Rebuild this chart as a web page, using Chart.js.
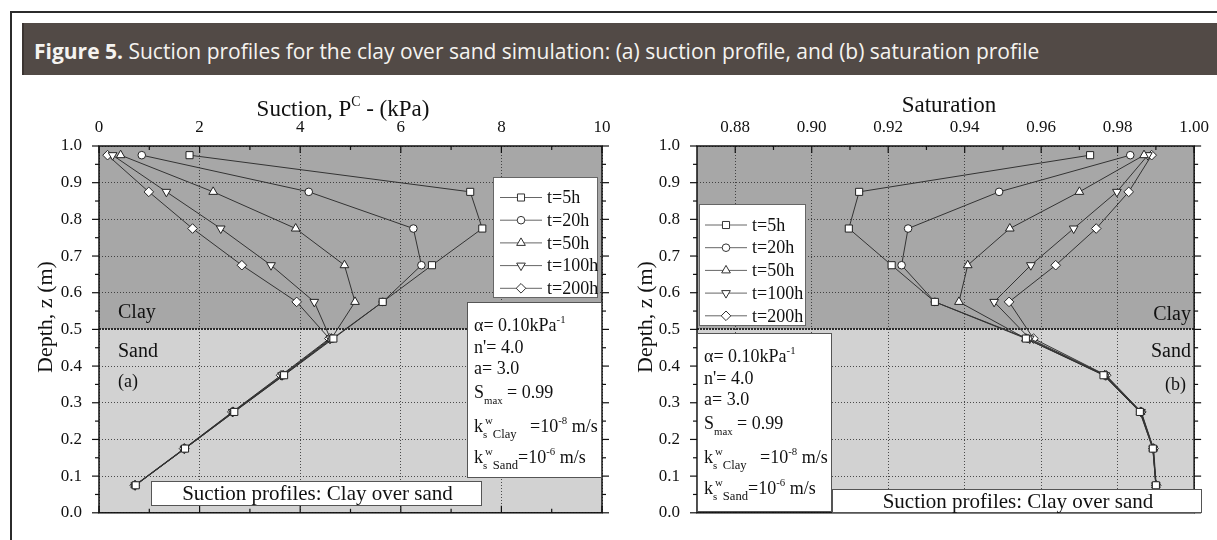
<!DOCTYPE html>
<html>
<head>
<meta charset="utf-8">
<script src="https://cdn.jsdelivr.net/npm/chart.js@4.4.0/dist/chart.umd.min.js"></script>
<style>
  body { margin: 0; width: 1217px; height: 540px; background: #fff; position: relative; overflow: hidden; }
  #frame { position: absolute; left: 10px; top: 11px; width: 1300px; height: 600px;
    border-left: 2px solid #2b2b2b; border-top: 2px solid #2b2b2b; }
  #header { position: absolute; left: 22px; top: 23px; width: 1195px; height: 52px; box-sizing: border-box;
    background: #524a46; border-left: 2px solid #3b3431; padding-left: 10px;
    color: #f5f3f0; font: 21px "Open Sans", sans-serif; line-height: 52px; white-space: nowrap; }
  #header span { position: relative; top: 2px; }
  canvas { position: absolute; left: 0; top: 0; }
</style>
</head>
<body>
<div id="frame"></div>
<div id="header"><span><b>Figure 5.</b> Suction profiles for the clay over sand simulation: (a) suction profile, and (b) saturation profile</span></div>
<canvas id="suctionChart" width="1217" height="540"></canvas>
<canvas id="saturationChart" width="1217" height="540"></canvas>
<script>
// depths of the nodes (m)
const depth = [0.975, 0.875, 0.775, 0.675, 0.575, 0.475, 0.375, 0.275, 0.175, 0.075];
const timeLabels = ['t=5h', 't=20h', 't=50h', 't=100h', 't=200h'];

// (a) suction, kPa
const suction5h   = [1.80, 7.38, 7.62, 6.62, 5.64, 4.66, 3.68, 2.69, 1.71, 0.73];
const suction20h  = [0.85, 4.17, 6.25, 6.41, 5.64, 4.64, 3.67, 2.68, 1.71, 0.72];
const suction50h  = [0.43, 2.27, 3.91, 4.88, 5.09, 4.62, 3.66, 2.67, 1.70, 0.72];
const suction100h = [0.27, 1.34, 2.42, 3.42, 4.28, 4.60, 3.64, 2.66, 1.70, 0.72];
const suction200h = [0.17, 0.99, 1.86, 2.84, 3.93, 4.58, 3.62, 2.65, 1.69, 0.71];

// (b) saturation
const saturation5h   = [0.9728, 0.9124, 0.9097, 0.9209, 0.9322, 0.9560, 0.9763, 0.9858, 0.9892, 0.9900];
const saturation20h  = [0.9833, 0.9490, 0.9252, 0.9235, 0.9322, 0.9565, 0.9765, 0.9859, 0.9892, 0.9900];
const saturation50h  = [0.9869, 0.9700, 0.9518, 0.9408, 0.9385, 0.9560, 0.9766, 0.9860, 0.9893, 0.9900];
const saturation100h = [0.9879, 0.9798, 0.9685, 0.9573, 0.9477, 0.9570, 0.9768, 0.9861, 0.9893, 0.9900];
const saturation200h = [0.9889, 0.9829, 0.9744, 0.9638, 0.9516, 0.9580, 0.9770, 0.9862, 0.9894, 0.9901];

const suctionTicks = [0, 2, 4, 6, 8, 10];
const saturationTicks = [0.88, 0.90, 0.92, 0.94, 0.96, 0.98, 1.00];
const depthTicks = [0, 0.1, 0.2, 0.3, 0.4, 0.5, 0.6, 0.7, 0.8, 0.9, 1.0];
const layerBoundary = 0.5;

const SERIF = '"Liberation Serif", "Times New Roman", serif';
const markers = [
  { style: 'rect', r: 5, rot: 0 },
  { style: 'circle', r: 3.8, rot: 0 },
  { style: 'triangle', r: 5, rot: 0 },
  { style: 'triangle', r: 5, rot: 180 },
  { style: 'rectRot', r: 4.8, rot: 0 }
];

function drawMarker(ctx, m, x, y) {
  ctx.beginPath();
  if (m.style === 'circle') {
    ctx.arc(x, y, m.r, 0, Math.PI * 2);
  } else if (m.style === 'rect') {
    const s = m.r * Math.SQRT1_2;
    ctx.rect(x - s, y - s, 2 * s, 2 * s);
  } else if (m.style === 'rectRot') {
    ctx.moveTo(x - m.r, y); ctx.lineTo(x, y - m.r); ctx.lineTo(x + m.r, y); ctx.lineTo(x, y + m.r);
    ctx.closePath();
  } else {
    let a = m.rot * Math.PI / 180;
    for (let k = 0; k < 3; k++) {
      const px = x + Math.sin(a) * m.r, py = y - Math.cos(a) * m.r;
      k ? ctx.lineTo(px, py) : ctx.moveTo(px, py);
      a += 2 * Math.PI / 3;
    }
    ctx.closePath();
  }
  ctx.fillStyle = '#fff'; ctx.fill();
  ctx.strokeStyle = '#333'; ctx.lineWidth = 1; ctx.stroke();
}

// text with super/subscripts: [text, kind] kind = n | sup | sub | big (larger sub) | ss (stacked "sub|sup")
function drawRich(ctx, x, baseline, segs, size, align) {
  const sizeOf = k => (k === 'n' ? size : k === 'big' ? size * 0.7 : size * 0.6);
  const width = segs.reduce((w, [t, k]) => {
    ctx.font = sizeOf(k) + 'px ' + SERIF;
    if (k === 'ss') return w + Math.max(...t.split('|').map(p => ctx.measureText(p).width)) + 2;
    return w + ctx.measureText(t).width;
  }, 0);
  let cx = align === 'center' ? x - width / 2 : x;
  ctx.textAlign = 'left'; ctx.textBaseline = 'alphabetic'; ctx.fillStyle = '#111';
  segs.forEach(([t, k]) => {
    ctx.font = sizeOf(k) + 'px ' + SERIF;
    if (k === 'n') {
      ctx.fillText(t, cx, baseline); cx += ctx.measureText(t).width;
    } else if (k === 'sup') {
      ctx.fillText(t, cx, baseline - size * 0.42); cx += ctx.measureText(t).width;
    } else if (k === 'sub' || k === 'big') {
      ctx.fillText(t, cx, baseline + size * 0.36); cx += ctx.measureText(t).width;
    } else {
      const [sb, sp] = t.split('|');
      ctx.fillText(sb, cx, baseline + size * 0.36);
      ctx.fillText(sp, cx + 2, baseline - size * 0.42);
      cx += Math.max(ctx.measureText(sb).width, ctx.measureText(sp).width) + 2;
    }
  });
}

function box(ctx, b, stroke) {
  ctx.fillStyle = '#fff'; ctx.fillRect(b.x, b.y, b.w, b.h);
  ctx.strokeStyle = stroke; ctx.lineWidth = 1; ctx.strokeRect(b.x + 0.5, b.y + 0.5, b.w - 1, b.h - 1);
}

const paramLines = [
  [['α= 0.10kPa', 'n'], ['-1', 'sup']],
  [["n'= 4.0", 'n']],
  [['a= 3.0', 'n']],
  [['S', 'n'], ['max', 'sub'], [' = 0.99', 'n']],
  [['k', 'n'], ['s|w', 'ss'], ['Clay', 'big'], ['   =10', 'n'], ['-8', 'sup'], [' m/s', 'n']],
  [['k', 'n'], ['s|w', 'ss'], ['Sand', 'big'], ['=10', 'n'], ['-6', 'sup'], [' m/s', 'n']]
];
const paramOffsets = [23, 45, 66, 90, 124, 155];

function minorTicks(major) {
  const step = major[1] - major[0];
  const out = [];
  major.forEach(v => out.push(v - step / 2));
  out.push(major[major.length - 1] + step / 2);
  return out;
}

function makeDecor(cfg) {
  return {
    id: 'decor',
    beforeDraw(chart) {
      const { ctx, chartArea: a, scales: { y } } = chart;
      const yb = y.getPixelForValue(layerBoundary);
      ctx.save();
      ctx.fillStyle = '#a7a7a7'; ctx.fillRect(a.left, a.top, a.right - a.left, yb - a.top);
      ctx.fillStyle = '#d2d2d2'; ctx.fillRect(a.left, yb, a.right - a.left, a.bottom - yb);
      ctx.restore();
    },
    beforeDatasetsDraw(chart) {
      const { ctx, chartArea: a, scales: { x, y } } = chart;
      ctx.save();
      // clay / sand boundary
      const yb = Math.round(y.getPixelForValue(layerBoundary));
      ctx.strokeStyle = '#2a2a2a'; ctx.lineWidth = 2; ctx.setLineDash([2, 1]);
      ctx.beginPath(); ctx.moveTo(a.left, yb); ctx.lineTo(a.right, yb); ctx.stroke();
      ctx.setLineDash([]);
      // ticks
      ctx.strokeStyle = '#111'; ctx.lineWidth = 1.2;
      const tick = (px, py, dx, dy) => { ctx.beginPath(); ctx.moveTo(px, py); ctx.lineTo(px + dx, py + dy); ctx.stroke(); };
      const xMaj = cfg.xTicks, xMin = minorTicks(xMaj).filter(v => v > x.min && v < x.max);
      xMaj.forEach(v => { const p = x.getPixelForValue(v); tick(p, a.top, 0, 7); tick(p, a.bottom, 0, -7); });
      xMin.forEach(v => { const p = x.getPixelForValue(v); tick(p, a.top, 0, 4); tick(p, a.bottom, 0, -4); });
      const yMin = minorTicks(depthTicks).filter(v => v > 0 && v < 1);
      depthTicks.forEach(v => { const p = y.getPixelForValue(v); tick(a.left, p, -7, 0); tick(a.right, p, 7, 0); });
      yMin.forEach(v => { const p = y.getPixelForValue(v); tick(a.left, p, -4, 0); tick(a.right, p, 4, 0); });
      // frame
      ctx.lineWidth = 1.5; ctx.strokeStyle = '#111';
      ctx.strokeRect(a.left, a.top, a.right - a.left, a.bottom - a.top);
      ctx.restore();
    },
    afterDatasetsDraw(chart) {
      const { ctx } = chart;
      ctx.save();
      // legend
      const lg = cfg.legend;
      box(ctx, lg.box, '#666');
      timeLabels.forEach((lab, i) => {
        const yy = lg.rowY + i * lg.step;
        ctx.strokeStyle = '#666'; ctx.lineWidth = 1;
        ctx.beginPath(); ctx.moveTo(lg.lineX, yy); ctx.lineTo(lg.lineX + 42, yy); ctx.stroke();
        drawMarker(ctx, markers[i], lg.lineX + 21, yy);
        ctx.font = '18px ' + SERIF; ctx.fillStyle = '#111'; ctx.textAlign = 'left'; ctx.textBaseline = 'middle';
        ctx.fillText(lab, lg.lineX + 47, yy + 1);
      });
      // parameters
      const pb = cfg.params;
      box(ctx, pb, '#555');
      paramLines.forEach((segs, i) => drawRich(ctx, pb.x + 7, pb.y + paramOffsets[i] + 6, segs, 18, 'left'));
      // caption
      const cb = cfg.caption;
      box(ctx, cb, '#555');
      ctx.font = '21px ' + SERIF; ctx.fillStyle = '#111'; ctx.textAlign = 'center'; ctx.textBaseline = 'middle';
      ctx.fillText('Suction profiles: Clay over sand', cb.x + cb.w / 2 + 1, cb.y + cb.h / 2 + 1);
      // layer labels
      cfg.labels.forEach(l => {
        ctx.font = l.size + 'px ' + SERIF; ctx.textAlign = l.align; ctx.textBaseline = 'middle';
        ctx.fillText(l.text, l.x, l.y);
      });
      // axis titles
      drawRich(ctx, cfg.xTitle.x, cfg.xTitle.y, cfg.xTitle.segs, 23, 'center');
      ctx.translate(cfg.yTitleX, 317); ctx.rotate(-Math.PI / 2);
      ctx.font = '22px ' + SERIF; ctx.textAlign = 'center'; ctx.textBaseline = 'middle'; ctx.fillStyle = '#111';
      ctx.fillText('Depth, z (m)', 0, 0);
      ctx.restore();
    }
  };
}

function makeDatasets(series) {
  return series.map((vals, i) => ({
    label: timeLabels[i],
    data: vals.map((v, j) => ({ x: v, y: depth[j] })),
    showLine: true,
    borderColor: '#333',
    borderWidth: 1,
    pointStyle: markers[i].style,
    pointRadius: markers[i].r,
    pointHoverRadius: markers[i].r,
    pointRotation: markers[i].rot,
    pointBackgroundColor: '#fff',
    pointBorderColor: '#222',
    pointBorderWidth: 1
  }));
}

function makeChart(id, series, xMin, xMax, xTicks, fmt, padding, decor) {
  return new Chart(document.getElementById(id), {
    type: 'scatter',
    data: { datasets: makeDatasets(series) },
    options: {
      responsive: false, animation: false, devicePixelRatio: 1, events: [],
      layout: { padding },
      plugins: { legend: { display: false }, tooltip: { enabled: false } },
      scales: {
        x: {
          type: 'linear', position: 'top', min: xMin, max: xMax,
          afterBuildTicks: s => { s.ticks = xTicks.map(v => ({ value: v })); },
          afterFit: s => { s.height = 58; },
          ticks: { font: { family: SERIF, size: 17 }, color: '#111', padding: 8, maxRotation: 0, callback: v => fmt(v) },
          grid: { color: 'rgba(40,40,40,0.8)', lineWidth: 1, drawTicks: false },
          border: { display: false, dash: [1, 2] }
        },
        y: {
          type: 'linear', min: 0, max: 1,
          afterBuildTicks: s => { s.ticks = depthTicks.map(v => ({ value: v })); },
          afterFit: s => { s.width = 87; },
          ticks: { font: { family: SERIF, size: 17 }, color: '#111', padding: 17, callback: v => v.toFixed(1) },
          grid: { color: 'rgba(40,40,40,0.8)', lineWidth: 1, drawTicks: false },
          border: { display: false, dash: [1, 2] }
        }
      }
    },
    plugins: [makeDecor(Object.assign({ xTicks }, decor))]
  });
}

makeChart('suctionChart',
  [suction5h, suction20h, suction50h, suction100h, suction200h],
  0, 10, suctionTicks, v => String(v),
  { left: 12, top: 88, right: 615, bottom: 24 },
  {
    legend: { box: { x: 493, y: 177, w: 105, h: 121 }, rowY: 197.5, step: 22.7, lineX: 500 },
    params: { x: 467, y: 302, w: 135, h: 176 },
    caption: { x: 151, y: 481, w: 331, h: 25 },
    labels: [
      { text: 'Clay', x: 118, y: 313, size: 20, align: 'left' },
      { text: 'Sand', x: 118, y: 352, size: 20, align: 'left' },
      { text: '(a)', x: 118, y: 382, size: 18, align: 'left' }
    ],
    xTitle: { x: 343, y: 116, segs: [['Suction, P', 'n'], ['C', 'sup'], [' - (kPa)', 'n']] },
    yTitleX: 46
  });

makeChart('saturationChart',
  [saturation5h, saturation20h, saturation50h, saturation100h, saturation200h],
  0.87, 1.0, saturationTicks, v => v.toFixed(2),
  { left: 610, top: 88, right: 15, bottom: 24 },
  {
    legend: { box: { x: 699, y: 204, w: 107, h: 122 }, rowY: 225, step: 22.7, lineX: 705 },
    params: { x: 697, y: 333, w: 135, h: 179 },
    caption: { x: 832, y: 489, w: 370, h: 24 },
    labels: [
      { text: 'Clay', x: 1191, y: 315, size: 20, align: 'right' },
      { text: 'Sand', x: 1191, y: 352, size: 20, align: 'right' },
      { text: '(b)', x: 1186, y: 385, size: 18, align: 'right' }
    ],
    xTitle: { x: 949, y: 112, segs: [['Saturation', 'n']] },
    yTitleX: 646
  });
</script>
</body>
</html>
